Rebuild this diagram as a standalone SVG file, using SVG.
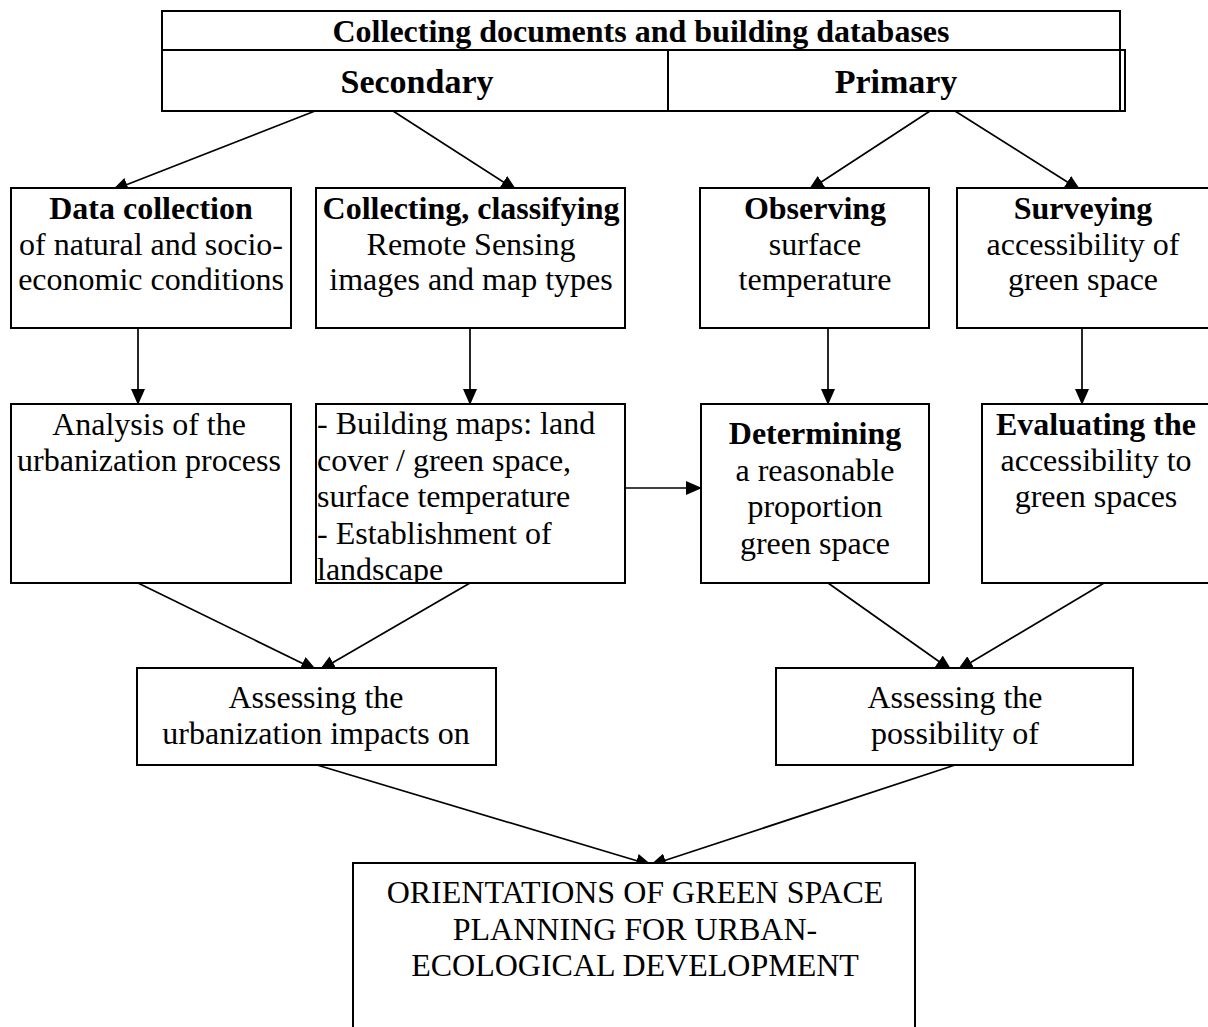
<svg xmlns="http://www.w3.org/2000/svg" width="1208" height="1027" viewBox="0 0 1208 1027">
<style>
text{font-family:"Liberation Serif","Times New Roman",serif;font-size:32px;fill:#000}
.b{font-weight:bold}
.h{font-weight:bold;font-size:34px}
.c{text-anchor:middle}
.box{fill:#fff;stroke:#000;stroke-width:2}
.ln{fill:none;stroke:#000;stroke-width:1.7}
</style>
<defs>
<marker id="ah" markerUnits="userSpaceOnUse" markerWidth="16" markerHeight="14" refX="15" refY="7" orient="auto">
<path d="M0,0 L16,7 L0,14 z" fill="#000"/>
</marker>
<clipPath id="clipMaps"><rect x="316" y="404" width="309" height="179"/></clipPath>
</defs>
<rect width="1208" height="1027" fill="#fff"/>
<g id="connectors">
<line class="ln" x1="315" y1="111" x2="113" y2="190" marker-end="url(#ah)"/>
<line class="ln" x1="393" y1="111" x2="516" y2="190" marker-end="url(#ah)"/>
<line class="ln" x1="930" y1="111" x2="809" y2="190" marker-end="url(#ah)"/>
<line class="ln" x1="955" y1="111" x2="1080" y2="190" marker-end="url(#ah)"/>
<line class="ln" x1="138" y1="328" x2="138" y2="404" marker-end="url(#ah)"/>
<line class="ln" x1="470" y1="328" x2="470" y2="404" marker-end="url(#ah)"/>
<line class="ln" x1="828" y1="328" x2="828" y2="404" marker-end="url(#ah)"/>
<line class="ln" x1="1082" y1="328" x2="1082" y2="404" marker-end="url(#ah)"/>
<line class="ln" x1="624" y1="488" x2="701" y2="488" marker-end="url(#ah)"/>
<line class="ln" x1="138" y1="583" x2="316" y2="670" marker-end="url(#ah)"/>
<line class="ln" x1="470" y1="583" x2="320" y2="670" marker-end="url(#ah)"/>
<line class="ln" x1="828" y1="583" x2="951" y2="670" marker-end="url(#ah)"/>
<line class="ln" x1="1104" y1="583" x2="958" y2="670" marker-end="url(#ah)"/>
<line class="ln" x1="317" y1="765" x2="651" y2="865" marker-end="url(#ah)"/>
<line class="ln" x1="955" y1="765" x2="651" y2="865" marker-end="url(#ah)"/>
</g>
<g id="header">
<rect class="box" x="162" y="11" width="958" height="100"/>
<rect class="box" x="162" y="50" width="963" height="61"/>
<line x1="1120" y1="50" x2="1120" y2="111" stroke="#000" stroke-width="2"/>
<line x1="668" y1="50" x2="668" y2="111" stroke="#000" stroke-width="2"/>
<text class="b c" x="641" y="42">Collecting documents and building databases</text>
</g>
<g id="secondary"><text class="h c" x="417" y="93">Secondary</text></g>
<g id="primary"><text class="h c" x="896" y="93">Primary</text></g>
<g id="data-collection">
<rect class="box" x="11" y="188" width="280" height="140"/>
<text class="c" x="151" y="219"><tspan class="b">Data collection</tspan><tspan x="151" dy="35.5">of natural and socio-</tspan><tspan x="151" dy="35.5">economic conditions</tspan></text>
</g>
<g id="collecting-classifying">
<rect class="box" x="316" y="188" width="309" height="140"/>
<text class="c" x="471" y="219"><tspan class="b">Collecting, classifying</tspan><tspan x="471" dy="35.5">Remote Sensing</tspan><tspan x="471" dy="35.5">images and map types</tspan></text>
</g>
<g id="observing">
<rect class="box" x="700" y="188" width="229" height="140"/>
<text class="c" x="815" y="219"><tspan class="b">Observing</tspan><tspan x="815" dy="35.5">surface</tspan><tspan x="815" dy="35.5">temperature</tspan></text>
</g>
<g id="surveying">
<rect class="box" x="957" y="188" width="260" height="140"/>
<text class="c" x="1083" y="219"><tspan class="b">Surveying</tspan><tspan x="1083" dy="35.5">accessibility of</tspan><tspan x="1083" dy="35.5">green space</tspan></text>
</g>
<g id="analysis">
<rect class="box" x="11" y="404" width="280" height="179"/>
<text class="c" x="149" y="435"><tspan>Analysis of the</tspan><tspan x="149" dy="36">urbanization process</tspan></text>
</g>
<g id="building-maps">
<rect class="box" x="316" y="404" width="309" height="179"/>
<text x="317" y="434" clip-path="url(#clipMaps)"><tspan>- Building maps: land</tspan><tspan x="317" dy="36.5">cover / green space,</tspan><tspan x="317" dy="36.5">surface temperature</tspan><tspan x="317" dy="36.5">- Establishment of</tspan><tspan x="317" dy="36.5">landscape</tspan></text>
<rect x="316" y="404" width="309" height="179" fill="none" stroke="#000" stroke-width="2"/>
</g>
<g id="determining">
<rect class="box" x="701" y="404" width="228" height="179"/>
<text class="c" x="815" y="444"><tspan class="b">Determining</tspan><tspan x="815" dy="36.5">a reasonable</tspan><tspan x="815" dy="36.5">proportion</tspan><tspan x="815" dy="36.5">green space</tspan></text>
</g>
<g id="evaluating">
<rect class="box" x="982" y="404" width="235" height="179"/>
<text class="c" x="1096" y="435"><tspan class="b">Evaluating the</tspan><tspan x="1096" dy="36">accessibility to</tspan><tspan x="1096" dy="36">green spaces</tspan></text>
</g>
<g id="assessing-impacts">
<rect class="box" x="137" y="668" width="359" height="97"/>
<text class="c" x="316" y="708"><tspan>Assessing the</tspan><tspan x="316" dy="35.5">urbanization impacts on</tspan></text>
</g>
<g id="assessing-possibility">
<rect class="box" x="776" y="668" width="357" height="97"/>
<text class="c" x="955" y="708"><tspan>Assessing the</tspan><tspan x="955" dy="35.5">possibility of</tspan></text>
</g>
<g id="orientations">
<rect class="box" x="353" y="863" width="562" height="180"/>
<text class="c" x="635" y="903"><tspan>ORIENTATIONS OF GREEN SPACE</tspan><tspan x="635" dy="36.5">PLANNING FOR URBAN-</tspan><tspan x="635" dy="36.5">ECOLOGICAL DEVELOPMENT</tspan></text>
</g>
</svg>
